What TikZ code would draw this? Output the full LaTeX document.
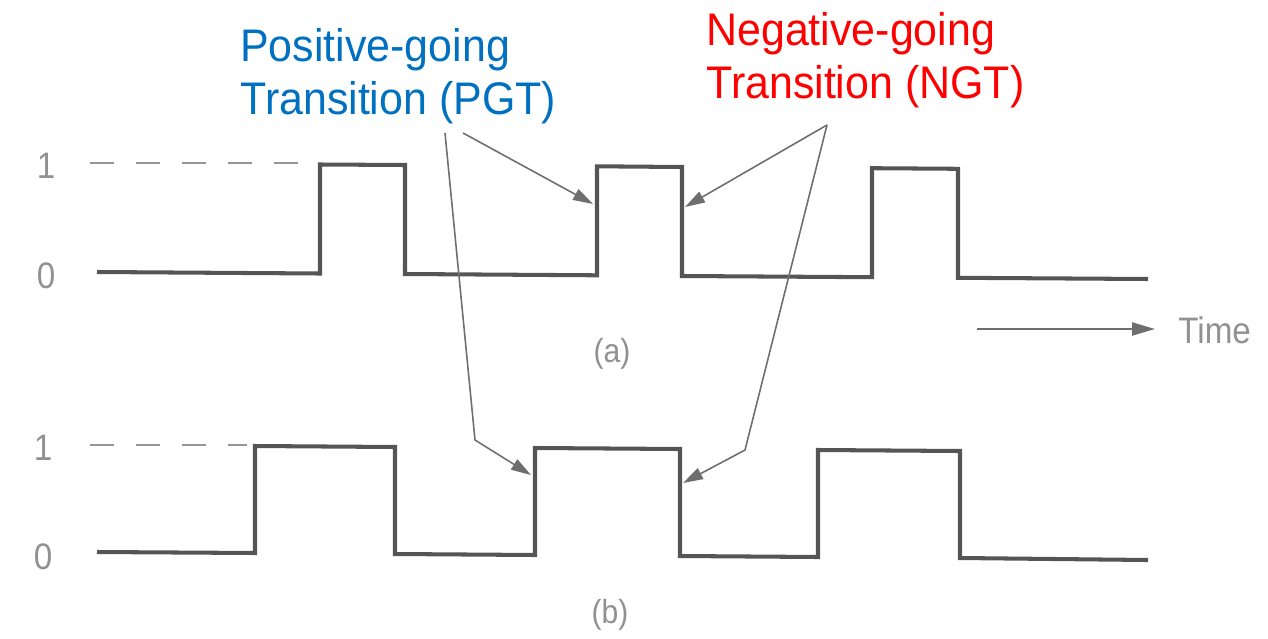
\documentclass[tikz,border=0pt]{standalone}
\usepackage{fontspec}
\setmainfont{Liberation Sans}
\newfontfamily\titlefont[FakeStretch=0.94]{Liberation Sans}
\newfontfamily\lblfont[FakeStretch=0.9]{Liberation Sans}
\usetikzlibrary{arrows.meta}
\definecolor{pgtblue}{RGB}{0,112,192}
\definecolor{ngtred}{RGB}{255,0,0}
\definecolor{wavecol}{RGB}{85,85,85}
\definecolor{lblcol}{RGB}{145,145,145}
\definecolor{dashcol}{RGB}{150,150,150}
\definecolor{arrcol}{RGB}{110,110,110}
\begin{document}
\begin{tikzpicture}[x=0.02cm,y=-0.02cm,
  wave/.style={draw=wavecol,line width=2.3pt,line join=miter},
  levelline/.style={draw=dashcol,line width=1.4pt,dash pattern=on 0.48cm off 0.44cm},
  pointer/.style={draw=arrcol,line width=0.9pt,-{Triangle[length=0.4cm,width=0.24cm]}},
  titletext/.style={font=\titlefont\fontsize{26}{30}\selectfont,align=left,inner sep=0pt,anchor=north west},
  axislabel/.style={text=lblcol,font=\lblfont\fontsize{21}{24}\selectfont,inner sep=0pt},
  sublabel/.style={text=lblcol,font=\lblfont\fontsize{19}{22}\selectfont,inner sep=0pt},
]
\useasboundingbox (0,0) rectangle (1268,639);

% titles
\node[titletext,text=pgtblue] (pgt) at (240,28) {Positive-going\\Transition (PGT)};
\node[titletext,text=ngtred] (ngt) at (706,12) {Negative-going\\Transition (NGT)};

% level labels
\node[axislabel] (a1) at (46,166) {1};
\node[axislabel] (a0) at (46,276) {0};
\node[axislabel] (b1) at (43,448) {1};
\node[axislabel] (b0) at (43,557) {0};
\node[sublabel] (la) at (612,354) {(a)};
\node[sublabel] (lb) at (610,615) {(b)};
\node[axislabel,anchor=west] (time) at (1178,330) {Time};

% dashed '1' level guides
\coordinate (da1) at (90,163);
\coordinate (da2) at (312,163);
\coordinate (db1) at (90,445);
\coordinate (db2) at (247,445);
\draw[levelline] (da1) -- (da2);
\draw[levelline] (db1) -- (db2);

% waveform (a)
\draw[wave] (97,272) -- (320,273.5) -- (320,164.5) -- (405,165) -- (405,274)
  -- (597,275.3) -- (597,166.3) -- (682,167) -- (682,276) -- (872,277.2)
  -- (872,168.2) -- (958,168.8) -- (958,277.8) -- (1148,279);

% waveform (b)
\draw[wave] (97,552) -- (255,553) -- (255,446) -- (395,447) -- (395,554)
  -- (535,555) -- (535,448) -- (680,449) -- (680,556) -- (818,557)
  -- (818,450) -- (960,451) -- (960,558) -- (1148,560);

% time arrow
\coordinate (t0) at (977,329);
\coordinate (t1) at (1155,329);
\draw[draw=arrcol,line width=1.3pt,-{Triangle[length=0.46cm,width=0.26cm]}] (t0) -- (t1);

% pointer arrows
\coordinate (ps1) at (463,133);
\coordinate (ps2) at (445,133);
\coordinate (pk) at (475,440);
\coordinate (pa) at (593,204);
\coordinate (pb) at (531,475);
\coordinate (ns) at (827,125);
\coordinate (nk) at (745,450);
\coordinate (na) at (685,207);
\coordinate (nb) at (683,483);
\draw[pointer] (ps1) -- (pa);
\draw[pointer] (ps2) -- (pk) -- (pb);
\draw[pointer] (ns) -- (na);
\draw[pointer] (ns) -- (nk) -- (nb);
\end{tikzpicture}
\end{document}
